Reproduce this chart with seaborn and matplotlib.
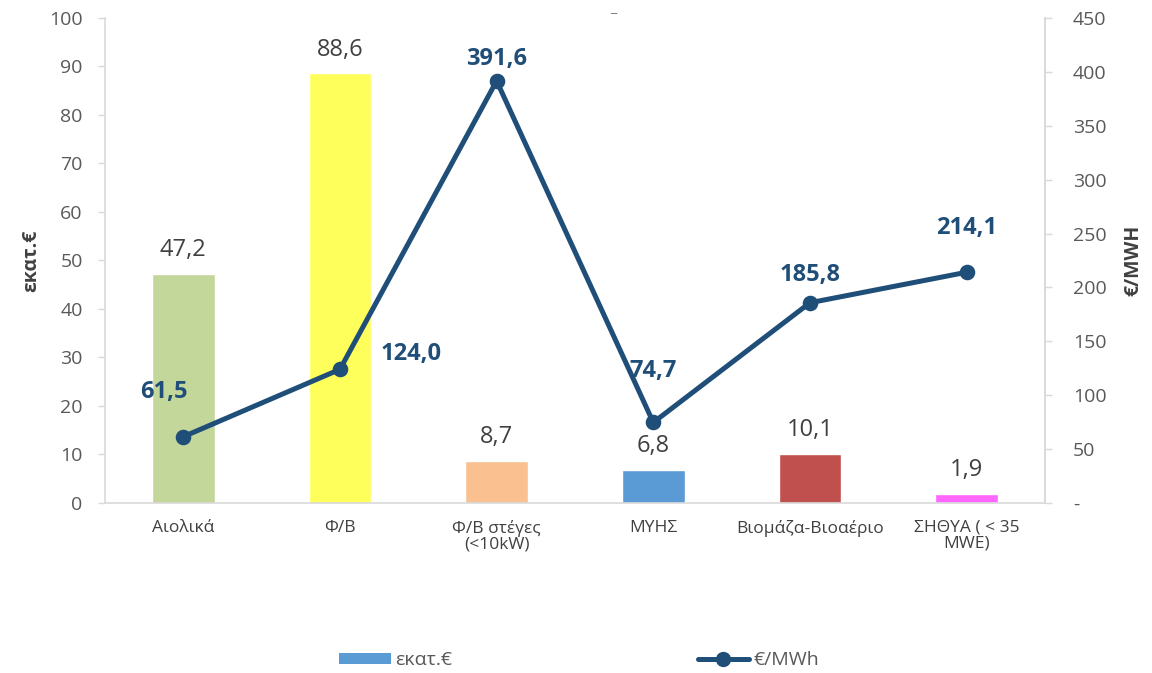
import matplotlib
matplotlib.use("Agg")
import matplotlib.pyplot as plt
import seaborn as sns
import pandas as pd
from matplotlib.patches import Patch
from matplotlib.lines import Line2D

categories = ["Αιολικά", "Φ/Β", "Φ/Β στέγες\n(<10kW)", "ΜΥΗΣ", "Βιομάζα-Βιοαέριο", "ΣΗΘΥΑ ( < 35\nMWE)"]
million_eur = [47.2, 88.6, 8.7, 6.8, 10.1, 1.9]
eur_per_mwh = [61.5, 124.0, 391.6, 74.7, 185.8, 214.1]
bar_colors = ["#C4D79B", "#FFFF5B", "#FAC090", "#5B9BD5", "#C0504D", "#FF66FF"]
line_color = "#1F4E79"
left_ticks = list(range(0, 101, 10))
right_ticks = list(range(0, 451, 50))
right_tick_labels = ["-"] + [str(v) for v in right_ticks[1:]]

sns.set_theme(style="white")
plt.rcParams["font.family"] = ["Open Sans", "DejaVu Sans"]

df = pd.DataFrame({"cat": categories, "val": million_eur, "price": eur_per_mwh})

fig = plt.figure(figsize=(11.52, 6.73), dpi=100)
ax = fig.add_axes([0.0911, 0.2526, 0.8160, 0.7207])

sns.barplot(data=df, x="cat", y="val", hue="cat", palette=bar_colors, width=0.4,
            legend=False, ax=ax, saturation=1)
ax.set_ylim(0, 100)
ax.set_yticks(left_ticks)
ax.set_xlim(-0.5, 5.5)
ax.set_xlabel("")
ax.set_ylabel("εκατ.€", fontsize=14, fontweight="bold", color="#404040", labelpad=6)
ax.tick_params(axis="y", labelsize=14, colors="#595959", length=5, width=1, color="#D9D9D9", pad=11)
ax.tick_params(axis="x", labelsize=12.5, colors="#404040", length=0, pad=12)
for lbl in ax.get_xticklabels():
    lbl.set_linespacing(1.0)
ax.spines["top"].set_visible(False)
for s in ["left", "right", "bottom"]:
    ax.spines[s].set_color("#D9D9D9")
    ax.spines[s].set_linewidth(1.2)

for i, v in enumerate(million_eur):
    ax.annotate(f"{v:.1f}".replace(".", ","), (i, v), xytext=(0, 17), textcoords="offset points",
                ha="center", va="center", fontsize=17, color="#404040")

ax2 = ax.twinx()
sns.pointplot(data=df, x="cat", y="price", color=line_color, markers="o", ax=ax2,
              linewidth=3.6, markersize=8.5)
ax2.set_ylim(0, 450)
ax2.set_xlim(-0.5, 5.5)
ax2.set_yticks(right_ticks)
ax2.set_yticklabels(right_tick_labels)
ax2.set_ylabel("€/MWH", fontsize=14, fontweight="bold", color="#404040", labelpad=12)
ax2.tick_params(axis="y", labelsize=14, colors="#595959", length=5, width=1, color="#D9D9D9", pad=15)
for s in ["top", "left", "bottom"]:
    ax2.spines[s].set_visible(False)
ax2.spines["right"].set_color("#D9D9D9")
ax2.spines["right"].set_linewidth(1.2)

offsets = [(-14, 32), (51, 11), (0, 16), (0, 37), (0, 20), (0, 32)]
for i, (v, off) in enumerate(zip(eur_per_mwh, offsets)):
    ax2.annotate(f"{v:.1f}".replace(".", ","), (i, v), xytext=off, textcoords="offset points",
                 ha="center", va="center", fontsize=17,
                 fontweight="bold", color=line_color)

fig.text(0.532, 1.0, "_", ha="center", va="top", fontsize=11, fontweight="bold", color="#7F7F7F")

handles = [Patch(facecolor="#5B9BD5", edgecolor="none"),
           Line2D([0], [0], color=line_color, lw=3.6, marker="o", markersize=10)]
fig.legend(handles, ["εκατ.€", "€/MWh"], loc="center", bbox_to_anchor=(0.503, 0.019), ncol=2,
           frameon=False, fontsize=14, columnspacing=12.6, handlelength=2.65,
           handletextpad=0.25, handleheight=0.5, labelcolor="#595959")

fig.savefig("out.png", dpi=100)
